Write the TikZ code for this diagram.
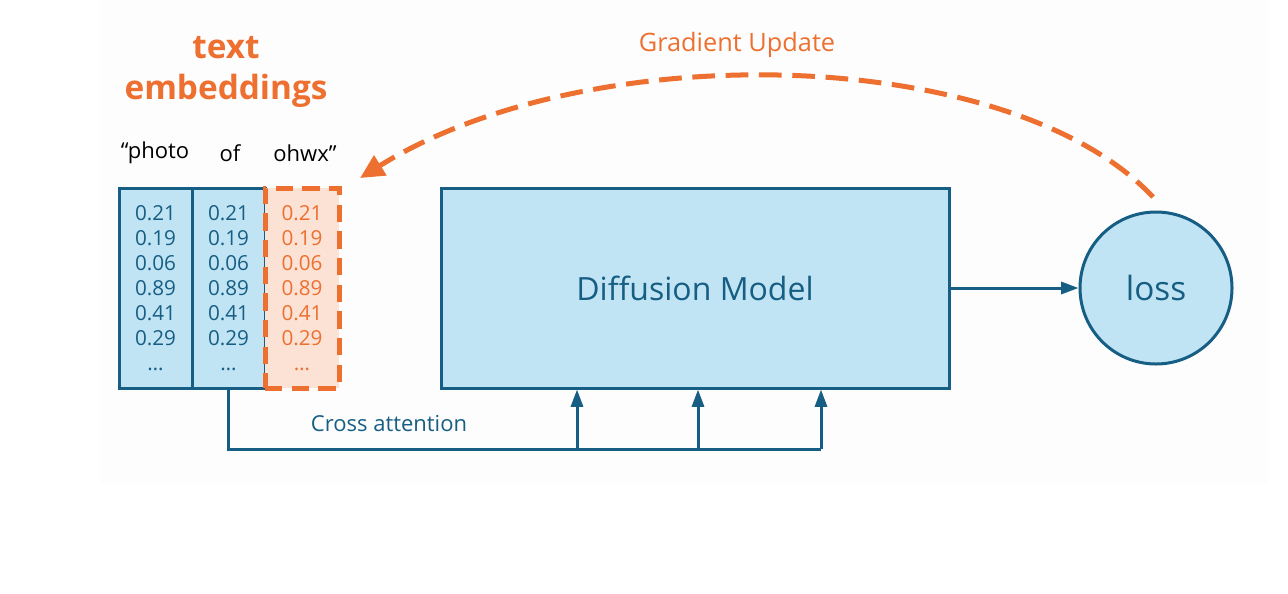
\documentclass[tikz,border=0pt]{standalone}
\usepackage{fontspec}
\setmainfont{Open Sans}
\usetikzlibrary{arrows.meta}
\definecolor{boxblue}{RGB}{193,228,244}
\definecolor{lineblue}{RGB}{22,94,131}
\definecolor{accent}{RGB}{237,112,48}
\definecolor{accentfill}{RGB}{251,226,213}
\definecolor{panel}{RGB}{253,253,253}
\begin{document}
\begin{tikzpicture}[x=0.75pt,y=-0.75pt,
  embcol/.style={draw=lineblue, line width=2.25pt, fill=boxblue, minimum height=150pt,
    inner sep=0pt, align=center, text=lineblue, font=\fontsize{15.5}{18.75}\selectfont},
  tokenlbl/.style={font=\fontsize{16.5}{18}\selectfont, text=black, inner sep=0pt},
  bluebox/.style={draw=lineblue, line width=2.25pt, fill=boxblue, text=lineblue,
    font=\fontsize{24}{28}\selectfont},
  flow/.style={draw=lineblue, line width=2.25pt, -{Triangle[length=13pt,width=9pt]}},
  plain/.style={draw=lineblue, line width=2.25pt}]
\useasboundingbox (0,0) rectangle (1288,593);
\fill[panel] (100,0) rectangle (1268,483);

% title
\node[text=accent, font=\bfseries\fontsize{25}{31}\selectfont, align=center] (title) at (226,72) {text\\embeddings};

% token labels
\node[tokenlbl] (t1) at (155,153) {“photo};
\node[tokenlbl] (t2) at (230,153) {of};
\node[tokenlbl] (t3) at (305,153) {ohwx”};

% embedding columns
\node[embcol, minimum width=54.75pt] (c1) at (155.5,288) {0.21\\0.19\\0.06\\0.89\\0.41\\0.29\\…};
\node[embcol, minimum width=54.75pt] (c2) at (228.5,288) {0.21\\0.19\\0.06\\0.89\\0.41\\0.29\\…};
\node[embcol, minimum width=55.5pt, fill=accentfill, draw=accent, text=accent,
  line width=3.75pt, dash pattern=on 13pt off 7pt] (c3) at (302,288) {0.21\\0.19\\0.06\\0.89\\0.41\\0.29\\…};

% model and loss
\node[bluebox, minimum width=381pt, minimum height=150pt] (dm) at (695,288) {Diffusion Model};
\node[bluebox, circle, minimum size=114pt, inner sep=0pt, font=\fontsize{25}{28}\selectfont] (loss) at (1156,288) {loss};
\draw[flow] (dm.east) -- (loss.west);

% cross attention
\coordinate (j1) at (577,449);
\coordinate (j2) at (698,449);
\coordinate (j3) at (821,449);
\draw[plain] (c2.south) |- (j3);
\draw[flow] (j1) -- (j1 |- dm.south);
\draw[flow] (j2) -- (j2 |- dm.south);
\draw[flow] (j3) -- (j3 |- dm.south);
\node[text=lineblue, font=\fontsize{16.5}{18}\selectfont] (ca) at (389,424) {Cross attention};

% gradient update
\coordinate (gs) at (1153,197);
\coordinate (ge) at (360,178);
\draw[accent, line width=3.75pt, dash pattern=on 17pt off 8pt,
  -{Triangle[length=18pt,width=17pt]}] (gs) .. controls (1010,45) and (590,35) .. (ge);
\node[text=accent, font=\fontsize{19}{22}\selectfont] (gu) at (737,45) {Gradient Update};
\end{tikzpicture}
\end{document}
